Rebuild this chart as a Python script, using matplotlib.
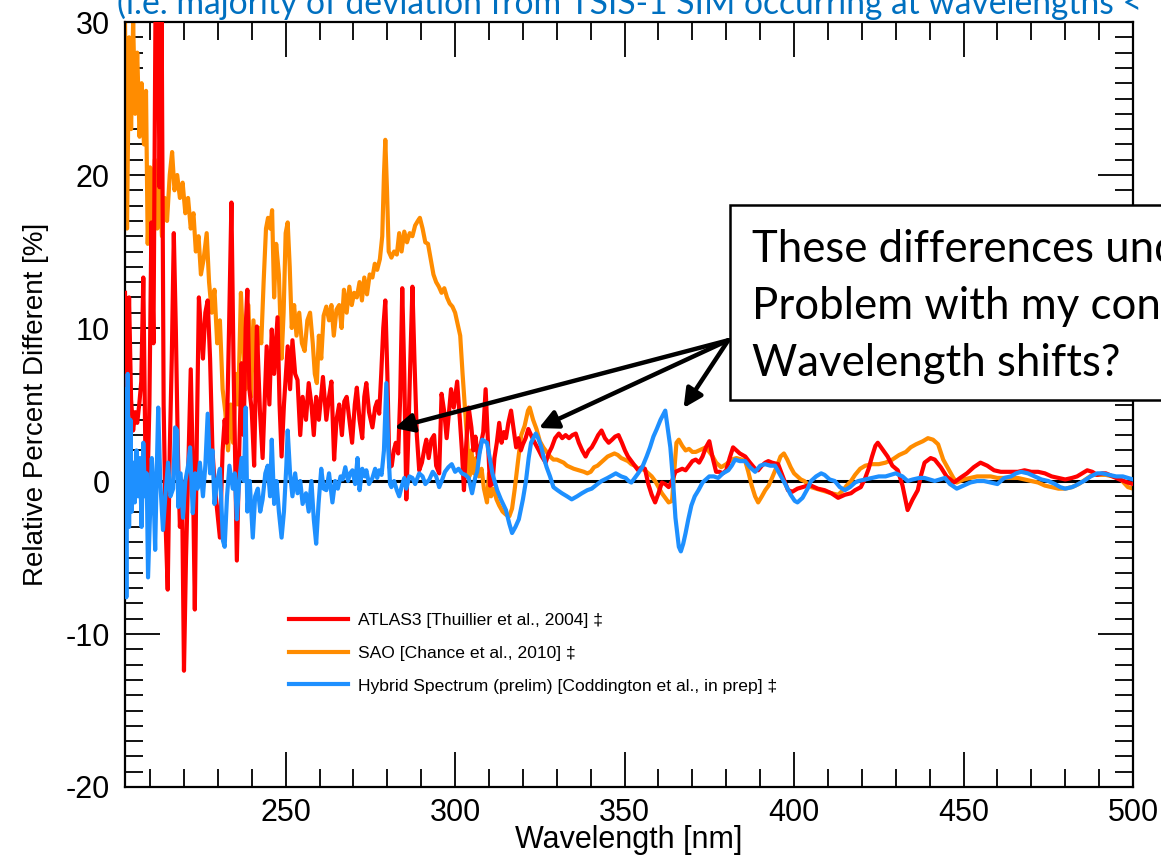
import matplotlib
matplotlib.use("Agg")
import matplotlib.pyplot as plt
from matplotlib.patches import Rectangle
from matplotlib.ticker import MultipleLocator

# ---------------- data ----------------
sao_wl = [202.6, 203.2, 203.8, 204.4, 205.0, 205.6, 206.2, 206.9, 207.5, 208.2, 208.8, 209.3, 210.0, 210.7,
          211.4, 212.1, 212.8, 213.5, 214.3, 215.0, 215.8, 216.5, 217.2, 218.0, 218.8, 219.6, 220.4, 221.2,
          222.0, 222.8, 223.5, 224.3, 225.0, 225.8, 226.7, 227.4, 228.2, 229.0, 229.8, 230.6, 231.4, 232.2,
          233.0, 233.8, 234.5, 235.3, 236.0, 236.8, 237.5, 238.2, 239.0, 239.8, 240.5, 241.3, 242.0, 242.8,
          243.5, 244.2, 244.8, 245.4, 246.0, 246.6, 247.2, 248.0, 248.8, 249.4, 250.0, 250.6, 251.2, 251.8,
          252.5, 253.2, 254.0, 254.8, 255.6, 256.4, 257.2, 258.0, 258.6, 259.2, 259.8, 260.5, 261.2, 262.0,
          262.8, 263.5, 264.2, 265.0, 265.8, 266.5, 267.2, 268.0, 268.8, 269.5, 270.2, 271.0, 271.8, 272.5,
          273.2, 274.0, 274.8, 275.6, 276.3, 277.0, 277.8, 278.5, 279.0, 279.4, 279.9, 280.4, 281.2, 282.0,
          282.8, 283.5, 284.2, 285.0, 285.8, 286.6, 287.4, 288.2, 289.0, 289.6, 290.4, 291.2, 292.0, 292.8,
          293.6, 294.4, 295.2, 296.0, 296.8, 297.6, 298.4, 299.2, 300.0, 300.8, 301.5, 302.2, 303.0, 303.6,
          304.2, 304.8, 305.5, 306.2, 307.0, 307.8, 308.5, 309.4, 310.0, 310.6, 311.4, 312.2, 313.0, 314.0,
          315.0, 316.0, 316.8, 317.6, 318.5, 319.5, 320.5, 321.5, 322.0, 323.0, 324.0, 325.0, 326.0, 327.0,
          328.0, 329.0, 330.0, 331.0, 332.0, 333.0, 334.0, 335.0, 336.5, 338.0, 339.0, 340.0, 341.0, 342.0,
          343.0, 344.0, 345.0, 346.0, 347.0, 348.0, 349.0, 350.0, 351.0, 352.0, 353.0, 354.0, 355.0, 356.0,
          357.0, 358.0, 359.0, 360.0, 361.0, 362.0, 363.0, 364.0, 364.6, 365.3, 366.0, 367.0, 368.0, 369.0,
          370.0, 371.0, 372.0, 373.0, 374.0, 375.0, 376.0, 377.0, 378.5, 380.0, 381.5, 383.0, 384.5, 385.6,
          386.5, 387.5, 388.5, 389.4, 390.5, 391.5, 392.5, 393.5, 395.0, 396.0, 397.0, 398.0, 399.0, 400.0,
          401.0, 402.0, 403.0, 404.0, 405.0, 406.5, 408.0, 409.5, 411.0, 413.0, 414.5, 415.5, 416.8, 418.0,
          419.5, 421.0, 423.0, 425.0, 427.0, 429.0, 431.0, 433.0, 434.4, 436.0, 438.0, 439.5, 441.0, 442.5,
          444.0, 445.5, 447.0, 448.0, 450.0, 452.0, 454.0, 456.0, 458.0, 460.0, 462.0, 464.0, 466.0, 468.0,
          470.0, 472.0, 474.0, 476.0, 478.0, 480.0, 482.0, 484.0, 486.0, 488.0, 490.0, 492.0, 494.0, 496.0,
          498.5, 500.0]
sao_pct = [30, 16.5, 29, 23, 30, 24, 28, 22.5, 26, 22, 25.5, 15.5, 20.5, 17,
           21, 16.5, 19.5, 16, 18.5, 17, 20, 21.5, 19, 20, 18.5, 19.5, 17.5, 18.5,
           16.5, 17.5, 15, 16, 13.5, 14.5, 16.2, 13, 11, 12.5, 9, 10.5, 6, 4.5,
           2, 5, 2.5, 7, 5, 12.3, 8.8, 6, 11.5, 5.5, 10.5, 7, 10, 9,
           13, 16.5, 17.2, 16.5, 17.7, 12, 15.5, 13.5, 8, 11, 16.2, 16.9, 14, 10,
           11.5, 9.5, 11, 9, 8.5, 10.5, 11, 9, 7, 6.4, 9.5, 8, 10.8, 11.4,
           10.5, 11.5, 9.5, 11.2, 11.5, 10, 12.5, 11, 12.7, 11.5, 12.3, 12, 13, 11.8,
           13.3, 12.2, 13.5, 13.3, 14.2, 13.8, 14.5, 16, 20, 22.3, 19, 15, 14.6, 15,
           14.8, 16.2, 15, 16.3, 15.6, 16.2, 16, 16.7, 17, 17.2, 16.5, 15.6, 15.5, 14.5,
           13.5, 13, 12.7, 12.3, 12.6, 12, 11.6, 11.4, 11, 10.2, 9.5, 7, 4.4, 2.5,
           0.3, 2, 0.5, 1.5, 0.3, 0.8, -0.5, -1.4, 0.5, -1, -0.5, -1.2, -1.6, -2,
           -2.2, -2.3, -1.8, -0.5, 1.2, 3, 3.6, 4.6, 4.8, 4, 3.4, 2.6, 2.2, 1.9,
           1.6, 1.4, 1.4, 1.3, 1.2, 1.0, 0.9, 0.8, 0.7, 0.6, 0.5, 0.6, 0.9, 1.0,
           1.2, 1.4, 1.6, 1.7, 1.8, 1.7, 1.5, 1.4, 1.3, 1.1, 1.0, 0.8, 0.8, 0.7,
           0.5, 0.3, 0.0, -0.4, -0.8, -1.1, -1.4, -1.3, 0.5, 2.5, 2.7, 2.3, 2.0, 2.1,
           1.9, 1.9, 2.0, 2.1, 2.2, 1.9, 1.6, 1.2, 0.9, 1.1, 1.4, 1.5, 1.4, 1.3,
           0.6, -0.3, -1.0, -1.4, -1.0, -0.6, -0.3, 0.2, 1.0, 1.6, 1.8, 1.4, 0.9, 0.5,
           0.3, 0.1, 0.0, -0.2, -0.4, -0.5, -0.6, -0.7, -0.8, -0.9, -0.6, -0.3, 0.0, 0.4,
           0.8, 1.0, 1.1, 1.1, 1.2, 1.4, 1.7, 1.9, 2.2, 2.4, 2.6, 2.8, 2.7, 2.4,
           1.4, 0.8, 0.2, -0.1, 0.1, 0.2, 0.3, 0.3, 0.3, 0.2, 0.2, 0.2, 0.2, 0.1,
           0.0, -0.1, -0.3, -0.4, -0.5, -0.5, -0.4, -0.2, 0.1, 0.4, 0.4, 0.4, 0.3, 0.2,
           -0.4, -0.5]

atlas_wl = [202.6, 203.2, 203.8, 204.4, 205.0, 205.6, 206.2, 206.8, 207.4, 208.0, 208.6, 209.2, 209.8, 210.4,
            211.0, 211.6, 212.2, 212.8, 213.4, 214.0, 214.6, 215.2, 215.8, 216.4, 217.0, 217.6, 218.2, 218.8,
            219.4, 220.0, 220.6, 221.4, 222.0, 222.6, 223.2, 223.8, 224.4, 225.0, 225.6, 226.3, 227.0, 227.7,
            228.4, 229.0, 229.6, 230.6, 231.4, 232.0, 232.6, 233.3, 234.0, 234.6, 235.2, 235.6, 236.3, 237.0,
            237.6, 238.2, 238.7, 239.3, 240.0, 240.7, 241.5, 242.4, 243.2, 244.4, 245.2, 245.9, 246.6, 247.6,
            248.2, 248.8, 249.5, 250.6, 251.3, 252.0, 252.8, 253.5, 254.3, 255.0, 256.0, 256.8, 257.6, 258.3,
            259.0, 259.8, 261.0, 262.0, 262.8, 263.5, 264.3, 265.0, 265.8, 266.6, 267.3, 268.0, 268.8, 269.6,
            270.4, 271.0, 271.8, 272.6, 273.2, 273.8, 274.6, 275.6, 276.4, 277.0, 277.6, 278.2, 278.8, 279.4,
            280.0, 280.6, 281.3, 281.9, 282.5, 283.2, 283.8, 284.4, 285.0, 285.6, 286.2, 286.8, 287.4, 288.0,
            288.7, 289.4, 290.2, 291.0, 291.5, 292.2, 293.0, 293.8, 294.4, 295.3, 296.0, 296.8, 297.5, 298.2,
            298.8, 299.6, 300.6, 301.4, 302.0, 302.6, 303.3, 304.0, 304.8, 305.4, 306.0, 306.8, 307.6, 308.3,
            309.0, 309.7, 310.3, 311.0, 311.6, 312.3, 313.0, 313.7, 314.4, 315.0, 315.7, 316.5, 317.2, 318.0,
            318.7, 319.4, 320.0, 320.8, 321.6, 322.6, 323.5, 324.7, 325.6, 326.7, 327.6, 328.5, 329.5, 330.6,
            331.6, 332.6, 333.6, 334.6, 335.6, 336.5, 337.5, 338.5, 339.4, 340.3, 341.3, 342.2, 343.2, 344.2,
            345.3, 346.3, 347.2, 348.2, 349.2, 350.1, 351.0, 352.0, 353.0, 354.0, 355.0, 356.0, 357.0, 358.0,
            359.0, 360.0, 361.0, 362.0, 363.0, 364.0, 365.0, 366.0, 367.0, 368.0, 369.0, 370.0, 371.0, 372.0,
            373.0, 374.0, 375.0, 376.0, 377.0, 378.0, 379.0, 380.0, 381.0, 382.0, 383.0, 384.0, 385.6, 387.0,
            388.5, 389.4, 390.5, 391.5, 392.4, 393.5, 395.3, 396.5, 397.5, 398.2, 399.5, 401.0, 402.5, 404.0,
            405.0, 407.0, 409.0, 411.0, 413.0, 415.0, 416.8, 418.0, 419.7, 421.0, 422.0, 423.0, 424.0, 424.7,
            426.0, 427.6, 429.0, 430.6, 432.0, 433.5, 435.0, 436.5, 437.5, 438.5, 440.3, 441.5, 443.3, 445.0,
            447.2, 449.0, 451.0, 453.0, 455.0, 457.0, 459.0, 461.0, 464.0, 466.0, 468.0, 470.0, 472.0, 474.0,
            476.0, 478.0, 480.0, 482.0, 483.5, 485.0, 486.5, 488.0, 489.4, 491.0, 492.0, 494.0, 496.0, 498.5,
            500.0]
atlas_pct = [12.3, 4.5, 12, 5.3, 3.3, 4.5, 3.8, 5, 6.5, 13.3, 2, -0.8, 5, 16.9,
             9, 31, 35, 19.2, 31, 5, -3, -7.1, 2, 8, 16.2, 9.9, 2, -3,
             0, -12.4, -5, 2, 7.3, 1, -8.4, 3, 12, 9.9, 8, 11, 11.8, 8,
             2, 0, -1.5, -3.7, 2, 4, 2.5, 10, 18.2, 8, 0, -5.2, 2, 7.7,
             3, 10, 12.5, 6, 4.6, 1, 10.1, 4.6, 1.5, 8.8, 5, 9.9, 7, 10.7,
             5, 1.6, 5, 8.8, 6, 9.2, 7, 6.6, 3, 5.5, 4, 6.4, 5, 3,
             5.5, 4, 6.8, 4, 5.5, 6.5, 1.4, 4, 5, 3, 5.2, 5.5, 4, 2.5,
             5, 6.1, 4, 2.8, 5.5, 6.4, 4.5, 3.5, 4.8, 5.2, 4.4, 7, 10, 11.8,
             7, 0.9, 1.0, 2, 2.5, 1.8, 5.5, 12.6, 7, -1.2, 3, 8, 12.7, 7.9,
             3, 0.7, 1.2, 2.2, 2.7, 1.5, 2.7, 3, 1, 0.5, 5.7, 4.5, 2.8, 4.5,
             6, 4.8, 6.5, 4, 2, -0.6, 2.5, 4.8, 3.5, 2.0, 2.9, 1.5, 2.4, 3.2,
             6, 2.5, -0.3, -0.2, 1.5, 2.5, 3.8, 2.5, 3.2, 2.8, 3.8, 4.6, 3.5, 2.2,
             2.8, 2.0, 2.4, 2.8, 3.4, 2.9, 2.5, 2, 1.6, 1.2, 1.8, 2.2, 2.8, 3.1,
             2.8, 3.0, 2.8, 3.0, 3.1, 2.5, 2.0, 1.6, 2.0, 2.2, 2.6, 3.0, 3.3, 2.8,
             2.5, 2.7, 2.9, 3.0, 2.5, 2.0, 1.6, 1.3, 1.0, 0.7, 0.9, 0.8, -0.2, -0.9,
             -1.4, -0.8, -0.1, -0.2, -0.4, 0.0, 0.6, 0.7, 0.8, 0.7, 1.0, 1.3, 1.4, 1.2,
             1.6, 2.2, 2.6, 1.5, 0.6, 0.6, 0.5, 0.7, 1.5, 2.2, 2.0, 1.8, 1.6, 1.2,
             0.8, 0.7, 1.0, 1.2, 1.3, 1.2, 1.1, 0.4, -0.2, -0.6, -0.7, -0.5, -0.4, -0.3,
             -0.3, -0.5, -0.6, -0.8, -1.1, -0.9, -0.8, -0.6, -0.4, 0.2, 0.8, 1.6, 2.3, 2.5,
             2.1, 1.6, 1.0, 0.7, -0.3, -1.9, -1.2, -0.6, 0.4, 1.2, 1.5, 1.4, 0.9, 0.3,
             -0.1, 0.2, 0.5, 0.9, 1.2, 1.0, 0.7, 0.6, 0.6, 0.6, 0.7, 0.6, 0.6, 0.5,
             0.3, 0.2, 0.1, 0.2, 0.3, 0.5, 0.7, 0.6, 0.4, 0.5, 0.5, 0.3, 0.1, -0.1,
             -0.2]

hybrid_wl = [202.6, 203.0, 203.4, 203.8, 204.2, 204.6, 205.0, 205.5, 206.0, 206.5, 207.0, 207.5, 208.0, 208.5,
             209.0, 209.4, 210.0, 210.5, 211.0, 211.5, 212.0, 212.4, 213.0, 213.8, 214.5, 215.3, 216.0, 216.8,
             217.4, 218.0, 218.3, 219.0, 219.7, 220.4, 221.2, 221.8, 222.6, 223.3, 224.0, 224.7, 225.6, 226.3,
             227.0, 227.7, 228.4, 229.0, 229.8, 230.6, 231.5, 232.0, 232.7, 233.4, 234.4, 235.0, 235.6, 236.3,
             237.0, 237.7, 238.2, 238.7, 239.4, 240.3, 241.0, 241.8, 242.5, 243.2, 244.0, 244.7, 245.4, 245.9,
             246.6, 247.3, 248.0, 248.8, 249.5, 250.2, 250.6, 251.3, 252.0, 252.8, 253.5, 254.3, 255.0, 256.0,
             256.8, 257.6, 258.3, 259.0, 259.7, 260.5, 261.2, 262.0, 262.8, 263.8, 264.6, 265.4, 266.2, 266.8,
             267.6, 268.4, 269.0, 269.7, 270.5, 271.2, 271.8, 272.6, 273.4, 273.8, 274.6, 275.6, 276.4, 277.0,
             277.6, 278.3, 279.0, 279.7, 280.3, 280.8, 281.2, 282.0, 282.8, 283.5, 284.3, 285.0, 285.6, 286.5,
             287.4, 288.2, 289.4, 290.4, 291.2, 292.4, 293.4, 294.4, 295.3, 296.2, 297.0, 298.0, 299.0, 300.0,
             301.0, 302.0, 303.0, 304.0, 305.0, 306.0, 306.5, 307.2, 308.0, 309.4, 310.3, 311.0, 312.4, 313.5,
             315.0, 316.0, 316.8, 317.8, 318.8, 320.0, 320.9, 321.7, 322.4, 323.3, 323.8, 324.5, 325.3, 326.2,
             327.0, 328.0, 329.0, 330.2, 331.5, 333.0, 334.4, 336.0, 337.4, 339.0, 340.3, 342.0, 343.2, 345.0,
             347.4, 349.0, 350.3, 351.2, 352.0, 353.0, 354.0, 355.2, 356.5, 357.5, 358.5, 359.5, 360.6, 362.0,
             362.7, 363.5, 364.3, 365.0, 366.0, 366.6, 367.3, 368.0, 368.8, 369.7, 370.7, 371.8, 373.0, 374.0,
             375.0, 376.3, 377.6, 379.0, 380.6, 381.6, 382.6, 384.0, 385.6, 387.0, 388.5, 390.0, 391.4, 393.0,
             394.4, 395.9, 397.4, 399.0, 400.2, 401.0, 402.5, 404.0, 405.0, 406.5, 408.0, 409.0, 410.5, 412.0,
             413.5, 415.0, 416.5, 418.0, 419.0, 421.0, 423.0, 425.0, 427.0, 428.5, 430.0, 432.0, 433.5, 435.0,
             437.0, 438.5, 440.0, 441.5, 443.0, 444.5, 446.0, 448.0, 450.0, 452.0, 454.0, 456.0, 458.0, 460.0,
             462.0, 464.0, 465.5, 467.0, 469.0, 471.0, 473.0, 475.0, 477.0, 478.5, 480.0, 482.0, 483.0, 485.5,
             487.5, 489.4, 491.0, 493.0, 495.0, 497.0, 498.5, 500.0]
hybrid_pct = [6, -7.6, 7, -3, 4, -2, 1.2, -1.4, 2, -1, 1.5, -3, 2.5, -1,
              0.5, -6.3, -2, 1.5, -0.5, -4.5, 1, 4.8, 0, -3.2, -1, 1.2, -1, -0.5,
              3.5, 3.3, -1.7, 0.5, -2.4, 0, 1, 2.2, -2.1, 0.5, -0.5, 1.2, -1, 1,
              4.4, 0.5, 2, -1.5, 0, 0.8, -3.9, -4.3, -1, 1, -0.5, 0.5, -2.5, 0,
              1.5, 0, 4.8, -2, 0, -3.7, -1, -0.5, -2, -1.2, 0.5, 1, -1, 2.7,
              -1.5, 0, -2, -3.7, -2, 1, 3.3, 0.5, -1, 0.5, -0.8, 0, -1.5, -0.8,
              -2, 0, -2.5, -4.1, -1.5, 0.8, -0.5, -0.6, 0.5, -1.4, 0, -0.5, 0.3, 0.1,
              0.9, 0, 0.5, 0.7, -0.2, 1.5, -0.6, 0.8, 0.3, 0.7, -0.2, 0.2, 0.8, 0.2,
              0.7, 0.4, 2, 6.4, 2, -0.2, -0.4, 0, -0.6, -1.0, -0.3, 0.2, -0.5, 0.3,
              0.2, -0.2, 0.5, 0.3, -0.2, 0.1, 0.6, 0.3, -0.4, 0.1, 0.6, 0.9, 1.1, 0.6,
              0.8, 0.5, 0.4, 0.2, -0.8, 0.3, 0.6, 1.8, 2.7, 2.5, 1.4, 0.5, -0.6, -1.2,
              -1.9, -2.8, -3.4, -3.0, -2.5, -1.2, 0, 1.5, 2.5, 2.9, 3.1, 2.8, 2.3, 1.5,
              0.9, 0.3, -0.4, -0.6, -0.8, -1.0, -1.2, -1.0, -0.8, -0.6, -0.5, -0.2, 0.0, 0.2,
              0.5, 0.3, 0.2, 0.0, -0.1, 0.2, 0.5, 0.9, 1.6, 2.2, 2.9, 3.4, 4.0, 4.6,
              3.5, 2.2, 0, -2.4, -4.3, -4.6, -4.1, -3.4, -2.5, -1.6, -1.0, -0.6, -0.1, 0.1,
              0.3, 0.3, 0.2, 0.5, 0.7, 1.0, 1.4, 1.3, 1.3, 0.9, 0.6, 1.0, 1.1, 1.0,
              1.0, 0.4, -0.2, -0.9, -1.3, -1.4, -1.1, -0.5, 0.0, 0.3, 0.5, 0.4, 0.1, 0.0,
              -0.4, -0.6, -0.4, -0.1, 0.0, 0.1, 0.2, 0.3, 0.3, 0.4, 0.5, 0.3, 0.0, 0.1,
              0.2, 0.2, 0.1, 0.0, 0.1, 0.2, -0.2, -0.5, -0.3, -0.1, 0.0, 0.0, -0.1, -0.2,
              0.2, 0.3, 0.5, 0.6, 0.5, 0.3, 0.1, 0.0, -0.2, -0.4, -0.5, -0.4, -0.3, 0.0,
              0.3, 0.5, 0.5, 0.4, 0.3, 0.3, 0.2, 0.1]

series_labels = ["ATLAS3 [Thuillier et al., 2004] \u2021",
                 "SAO [Chance et al., 2010] \u2021",
                 "Hybrid Spectrum (prelim) [Coddington et al., in prep] \u2021"]
x_ticks = [250, 300, 350, 400, 450, 500]
y_ticks = [-20, -10, 0, 10, 20, 30]

# ---------------- figure ----------------
W, H = 1161, 859
fig = plt.figure(figsize=(W / 100, H / 100), dpi=100)
ax = fig.add_axes([125 / W, 1 - 787 / H, (1133 - 125) / W, (787 - 22) / H])

tick_font = ['Liberation Sans', 'DejaVu Sans']
callout_font = ['Lato', 'Open Sans', 'DejaVu Sans']

RED = '#FF0000'
ORANGE = '#FF8C00'
BLUE = '#1E90FF'

ax.axhline(0, color='black', lw=2.2, zorder=1)
l_sao, = ax.plot(sao_wl, sao_pct, color=ORANGE, lw=3.0, zorder=2)
l_atl, = ax.plot(atlas_wl, atlas_pct, color=RED, lw=3.0, zorder=3)
l_hyb, = ax.plot(hybrid_wl, hybrid_pct, color=BLUE, lw=3.0, zorder=4)

ax.set_xlim(202.6, 500)
ax.set_ylim(-20, 30)
ax.set_xticks(x_ticks)
ax.set_xticklabels([str(v) for v in x_ticks])
ax.set_yticks(y_ticks)
ax.set_yticklabels([str(v) for v in y_ticks])
ax.xaxis.set_minor_locator(MultipleLocator(10))
ax.yaxis.set_minor_locator(MultipleLocator(1))
ax.tick_params(which='both', direction='in', top=True, right=True, width=1.3, color='black')
ax.tick_params(which='major', length=25)
ax.tick_params(which='minor', length=13)
ax.tick_params(axis='x', which='major', pad=8)
ax.tick_params(axis='y', which='major', pad=11)
for lab in ax.get_xticklabels() + ax.get_yticklabels():
    lab.set_fontfamily(tick_font)
    lab.set_fontsize(22)
for s in ax.spines.values():
    s.set_linewidth(1.6)

ax.set_xlabel("Wavelength [nm]", fontsize=22, family=tick_font, labelpad=-2)
ax.set_ylabel("Relative Percent Different [%]", fontsize=20, family=tick_font, labelpad=12)

leg = ax.legend([l_atl, l_sao, l_hyb], series_labels, loc='upper left',
                bbox_to_anchor=((273 - 125) / (1133 - 125), (787 - 597) / (787 - 22)),
                frameon=False, handlelength=3.4, handletextpad=0.55,
                labelspacing=1.0, prop={'family': tick_font, 'size': 12.6})

# arrows
tail = (380.6, 9.2)
for head in [(282.1, 3.46), (324.7, 3.46), (367.4, 4.77)]:
    ax.annotate('', xy=head, xytext=tail, annotation_clip=False,
                arrowprops=dict(arrowstyle='-|>', lw=3.2, color='black',
                                mutation_scale=28, shrinkA=0, shrinkB=0), zorder=6)

# callout box
box = Rectangle((730 / W, 1 - 400 / H), 0.5, 195 / H, transform=fig.transFigure,
                facecolor='white', edgecolor='black', lw=1.8, zorder=7, clip_on=False)
fig.patches.append(box)
for txt, yb in [("These differences und", 262), ("Problem with my con", 319), ("Wavelength shifts?", 376)]:
    fig.text(752 / W, 1 - yb / H, txt, fontsize=31.5, family=callout_font, va='baseline',
             ha='left', zorder=8)

# cut-off header text
fig.text(117 / W, 1 - 14 / H, "(i.e. majority of deviation from TSIS-1 SIM occurring at wavelengths <",
         fontsize=24.2, family=callout_font, color='#0070C0', va='baseline', ha='left')

fig.savefig("out.png", dpi=100)
